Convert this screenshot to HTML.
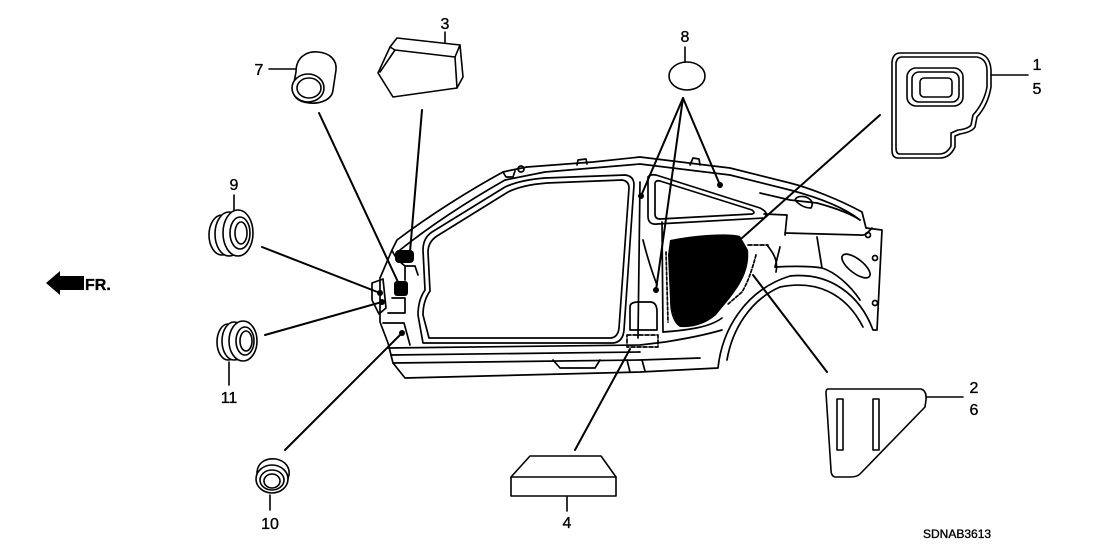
<!DOCTYPE html>
<html>
<head>
<meta charset="utf-8">
<style>
html,body{margin:0;padding:0;background:#fff;}
svg{display:block;}
text{font-family:"Liberation Sans",Arial,sans-serif;fill:#000;stroke:#000;stroke-width:0.35;}
</style>
</head>
<body>
<svg width="1108" height="553" viewBox="0 0 1108 553" xmlns="http://www.w3.org/2000/svg">
<rect width="1108" height="553" fill="#fff"/>
<g fill="none" stroke="#000" stroke-width="1.7" stroke-linejoin="round" stroke-linecap="round">

<!-- ===== CAR BODY ===== -->
<path d="M405,378 L640,372 L718,368 C722,330 745,290 790,276 C830,272 860,295 873,330 L877,330 L882,230 L866,228 L862,212 C840,200 810,188 790,183 L730,168 L697,164 L640,157 L593,162 L527,167 L512,170 L503,172 C470,190 430,215 397,240 L392,250 L380,278 L380,322 L388,343 L393,363 Z"/>
<path d="M400,250 C435,222 470,200 505,180 L545,172 L640,164 L697,171 L730,175 L790,190 C820,198 845,208 860,220"/>
<path d="M503,172 L506,177 L513,177 L515,171"/>
<circle cx="521" cy="169" r="3"/>
<path d="M577,165 L578,160 L586,159 L587,164"/>
<path d="M690,165 L693,158 L699,159 L700,165"/>
<!-- door opening -->
<path d="M423,343 L613,343 Q623,342 624,330 L634,185 Q634,176 625,175 L545,178 Q520,180 505,187 L432,232 Q423,238 423,250 L425,290 Q418,300 418,315 L423,343 Z"/>
<path d="M429,338 L611,338 Q618,337 619,328 L629,188 Q629,181 622,180 L547,183 Q522,185 508,192 L437,236 Q428,242 428,252 L430,291 Q423,301 423,315 L429,338 Z"/>
<!-- front area -->
<path d="M392,250 C395,258 400,262 405,266 L405,280"/>
<path d="M372,283 L383,279 L386,308 L379,314 L372,300 Z"/>
<path d="M392,298 L405,298 L405,313 L388,313"/>
<path d="M383,323 L404,323 L410,345"/>
<path d="M405,266 L415,266 L418,275"/>
<!-- sill -->
<path d="M388,348 L640,345 L665,342 C690,338 705,335 722,330"/>
<path d="M391,355 L640,352"/>
<path d="M393,363 L640,360 L700,358"/>
<path d="M553,360 L560,368 L595,368 L600,360"/>
<path d="M627,360 L630,372"/>
<path d="M642,360 L645,371"/>
<!-- B pillar -->
<path d="M640,182 L638,338"/>
<path d="M643,240 C648,260 652,272 657,285"/>
<path d="M662,222 L663,332"/>
<path d="M630,307 Q630,302 638,302 L650,302 Q657,302 657,312 L657,330 L630,330 Z"/>
<rect x="627" y="335" width="31" height="12" stroke-dasharray="4,2"/>
<!-- quarter window -->
<path d="M648,177 Q650,174 656,175 L760,208 Q770,213 764,218 L657,224 Q648,225 648,216 Z"/>
<path d="M655,183 Q656,180 660,181 L752,210 Q756,213 752,214 L660,219 Q655,219 655,214 Z"/>
<!-- rear structure -->
<path d="M764,214 L787,215 L785,235"/>
<path d="M760,193 L790,200 L817,203 C835,208 850,213 860,220"/>
<path d="M795,200 Q797,195 806,197 Q815,201 811,208 Q802,208 795,200 Z"/>
<path d="M785,233 L860,235 C866,236 868,232 872,228"/>
<path d="M817,237 L822,268"/>
<path d="M780,247 L775,267"/>
<path d="M775,267 C795,266 810,266 822,268 C835,272 850,285 860,300"/>
<path d="M767,245 C775,255 778,262 776,272"/>
<ellipse cx="856" cy="266" rx="17" ry="7" transform="rotate(38 856 266)"/>
<circle cx="868" cy="235" r="2.5"/>
<circle cx="875" cy="258" r="2.5"/>
<circle cx="875" cy="303" r="2.5"/>
<!-- inner wheel arch -->
<path d="M727,360 C732,330 750,300 780,287 C815,280 845,292 863,327"/>
<path d="M663,332 C690,330 710,327 722,318"/>
<!-- dashed around patch -->
<path d="M748,245 L768,245" stroke-dasharray="4,2"/>
<path d="M756,255 C752,270 748,282 742,292 L727,305" stroke-dasharray="3,2"/>
<path d="M666,252 L668,322" stroke-dasharray="3,2"/>
</g>

<!-- black patch -->
<path d="M670,240 C700,234 730,233 740,236 L748,250 C750,270 740,285 730,298 L716,315 C705,325 690,328 680,327 C672,322 670,310 670,300 L668,255 Z" fill="#000"/>
<rect x="395" y="250" width="19" height="13" rx="4" fill="#000"/>
<rect x="394" y="281" width="14" height="15" rx="3" fill="#000"/>

<!-- ===== LEADER LINES ===== -->
<g stroke="#000" stroke-width="2" stroke-linecap="round" fill="none">
<line x1="319" y1="113" x2="398" y2="282"/>
<line x1="422" y1="110" x2="410" y2="252"/>
<line x1="683" y1="98" x2="641" y2="196"/>
<line x1="683" y1="98" x2="656" y2="290"/>
<line x1="683" y1="98" x2="720" y2="185"/>
<line x1="880" y1="115" x2="742" y2="238"/>
<line x1="753" y1="275" x2="827" y2="372"/>
<line x1="630" y1="349" x2="575" y2="450"/>
<line x1="262" y1="247" x2="380" y2="293"/>
<line x1="265" y1="335" x2="382" y2="302"/>
<line x1="285" y1="450" x2="402" y2="333"/>
</g>
<g fill="#000">
<circle cx="641" cy="196" r="3"/>
<circle cx="656" cy="290" r="3"/>
<circle cx="720" cy="185" r="3"/>
<circle cx="380" cy="293" r="3"/>
<circle cx="382" cy="302" r="3"/>
<circle cx="402" cy="333" r="3"/>
</g>

<!-- ===== PARTS ===== -->
<g fill="none" stroke="#000" stroke-width="1.6" stroke-linejoin="round" stroke-linecap="round">
<!-- 7 -->
<path d="M296,72 C296,56 308,51 318,52 C330,53 337,60 336,70 L333,90 C332,100 320,104 309,103 C298,102 292,96 293,88 Z" fill="#fff"/>
<ellipse cx="308" cy="88" rx="16" ry="14" fill="#fff"/>
<ellipse cx="309" cy="88" rx="12" ry="10"/>
<line x1="269" y1="69" x2="296" y2="69"/>
<!-- 3 -->
<path d="M397,38 L460,45 L463,77 L457,88 L393,97 L378,73 L390,47 Z" fill="#fff"/>
<path d="M390,47 L395,50 L455,57 L460,45"/>
<path d="M455,57 L457,88"/>
<path d="M395,50 L380,72"/>
<line x1="445" y1="32" x2="445" y2="43"/>
<!-- 8 -->
<ellipse cx="687" cy="76" rx="18" ry="14"/>
<line x1="685" y1="47" x2="685" y2="62"/>
<!-- 1/5 -->
<path d="M900,53 L978,53 Q990,55 991,70 L991,87 Q988,105 977,117 L975,127 Q972,132 960,134 L955,136 L955,147 Q950,158 940,158 L898,158 Q892,158 892,150 L892,62 Q893,53 900,53 Z"/>
<path d="M902,57 L977,57 Q987,59 987,71 L987,87 Q984,103 973,115 L971,125 Q968,129 958,130 L951,133 L951,146 Q947,154 939,154 L900,154 Q896,154 896,148 L896,63 Q897,57 902,57 Z"/>
<rect x="907" y="68" width="56" height="38" rx="9"/>
<rect x="912" y="72" width="47" height="30" rx="7"/>
<rect x="920" y="78" width="32" height="19" rx="4"/>
<line x1="991" y1="75" x2="1028" y2="75"/>
<!-- 2/6 -->
<path d="M828,389 L921,389 Q927,391 926,400 L925,407 L860,474 Q857,477 850,477 L835,477 Q831,476 831,470 L826,393 Q826,389 828,389 Z"/>
<rect x="837" y="399" width="6" height="51"/>
<rect x="873" y="399" width="6" height="51"/>
<line x1="926" y1="397" x2="963" y2="397"/>
<!-- 4 -->
<path d="M530,456 L601,456 L616,477 L616,496 L511,496 L511,477 Z" fill="#fff"/>
<path d="M511,477 L616,477"/>
<line x1="567" y1="497" x2="567" y2="511"/>
<!-- 9 -->
<ellipse cx="222" cy="235" rx="13" ry="20" fill="#fff"/>
<ellipse cx="229" cy="234" rx="14" ry="22" fill="#fff"/>
<ellipse cx="238" cy="233" rx="15" ry="23" fill="#fff"/>
<ellipse cx="240" cy="233" rx="10" ry="16"/>
<ellipse cx="241" cy="233" rx="6" ry="11"/>
<line x1="234" y1="195" x2="234" y2="210"/>
<!-- 11 -->
<ellipse cx="228" cy="342" rx="11" ry="18" fill="#fff"/>
<ellipse cx="234" cy="341" rx="12" ry="19" fill="#fff"/>
<ellipse cx="243" cy="341" rx="14" ry="20" fill="#fff"/>
<ellipse cx="245" cy="341" rx="9" ry="14"/>
<ellipse cx="246" cy="341" rx="6" ry="10"/>
<line x1="229" y1="362" x2="229" y2="385"/>
<!-- 10 -->
<path d="M257,472 C258,462 266,458 276,459 C286,461 290,468 289,475 L287,482 L258,484 Z" fill="#fff"/>
<ellipse cx="272" cy="479" rx="16" ry="14" fill="#fff"/>
<ellipse cx="272" cy="480" rx="12" ry="10"/>
<ellipse cx="272" cy="481" rx="8" ry="7"/>
<line x1="270" y1="495" x2="270" y2="510"/>
</g>

<!-- FR arrow -->
<polygon points="46,283 60,271 60,276 84,276 84,290 60,290 60,295" fill="#000"/>
<text x="85" y="290" font-size="16" font-weight="bold" stroke-width="0.6">FR.</text>

<g font-size="16" text-anchor="middle">
<text x="259" y="75">7</text>
<text x="445" y="29">3</text>
<text x="685" y="42">8</text>
<text x="1037" y="70">1</text>
<text x="1037" y="94">5</text>
<text x="234" y="190">9</text>
<text x="229" y="403">11</text>
<text x="270" y="529">10</text>
<text x="567" y="528">4</text>
<text x="974" y="393">2</text>
<text x="974" y="415">6</text>
</g>
<text x="923" y="538" font-size="12" stroke-width="0.2">SDNAB3613</text>
</svg>
</body>
</html>
